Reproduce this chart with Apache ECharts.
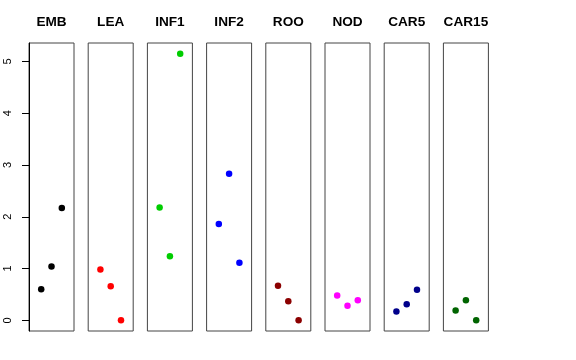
<!DOCTYPE html>
<html>
<head>
<meta charset="utf-8">
<script src="https://cdn.jsdelivr.net/npm/echarts@6/dist/echarts.min.js"></script>
<style>html,body{margin:0;padding:0;background:#fff}#c{width:576px;height:360px}</style>
</head>
<body>
<div id="c"></div>
<script>
const categories = ["EMB", "LEA", "INF1", "INF2", "ROO", "NOD", "CAR5", "CAR15"];
const xPositions = [1, 2, 3];
const valsEMB = [0.60, 1.04, 2.17];
const valsLEA = [0.98, 0.66, 0.00];
const valsINF1 = [2.18, 1.24, 5.15];
const valsINF2 = [1.86, 2.83, 1.11];
const valsROO = [0.67, 0.37, 0.00];
const valsNOD = [0.48, 0.28, 0.39];
const valsCAR5 = [0.17, 0.31, 0.59];
const valsCAR15 = [0.19, 0.39, 0.00];
const yTickLabels = [0, 1, 2, 3, 4, 5];
const colors = ["#000000", "#FF0000", "#00CD00", "#0000FF", "#8B0000", "#FF00FF", "#00008B", "#006400"];

const allVals = [valsEMB, valsLEA, valsINF1, valsINF2, valsROO, valsNOD, valsCAR5, valsCAR15];
const yMax = 5.15, yPad = yMax * 0.04;

const grids = [], xAxes = [], yAxes = [], series = [];
categories.forEach((cat, i) => {
  grids.push({
    left: 29 + 59.2 * i, top: 43, width: 45, height: 288,
    show: true, borderColor: '#444', borderWidth: 1, backgroundColor: 'transparent'
  });
  xAxes.push({
    gridIndex: i, type: 'value', min: -0.185, max: 4.185, position: 'top',
    name: cat, nameLocation: 'middle', nameGap: 14,
    nameTextStyle: { fontFamily: 'Liberation Sans', fontWeight: 'bold', fontSize: 13.6, color: '#000' },
    axisLine: { show: false }, axisTick: { show: false }, axisLabel: { show: false }, splitLine: { show: false }
  });
  const first = i === 0;
  yAxes.push({
    gridIndex: i, type: 'value', min: -yPad, max: yMax + yPad,
    axisLine: { show: first, onZero: false, lineStyle: { color: '#000', width: 1 } },
    axisTick: { show: first, length: 7, customValues: yTickLabels, lineStyle: { color: '#000' } },
    axisLabel: { show: first, customValues: yTickLabels, rotate: 90, margin: 16, fontSize: 11,
                 fontFamily: 'Liberation Sans', color: '#000' },
    splitLine: { show: false }
  });
  series.push({
    type: 'scatter', xAxisIndex: i, yAxisIndex: i, symbolSize: 6.5,
    itemStyle: { color: colors[i], opacity: 1 },
    data: xPositions.map((x, k) => [x, allVals[i][k]]),
    z: 5, silent: true
  });
});

const chart = echarts.init(document.getElementById('c'), null, { renderer: 'canvas' });
chart.setOption({
  animation: false,
  backgroundColor: '#fff',
  grid: grids, xAxis: xAxes, yAxis: yAxes, series: series
});
</script>
</body>
</html>
